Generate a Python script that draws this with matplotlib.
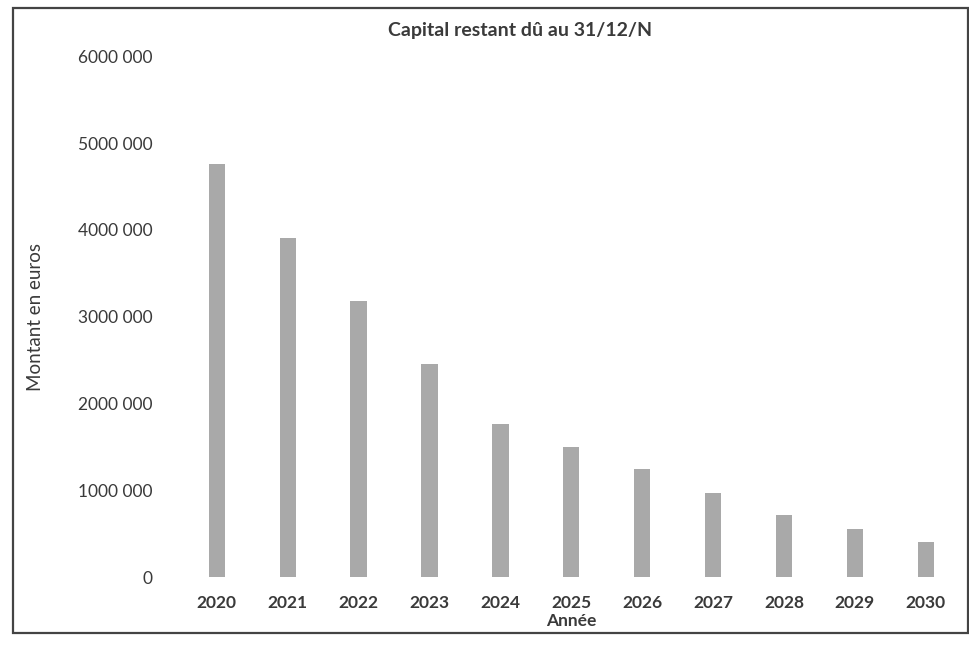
import matplotlib

matplotlib.use("Agg")
import matplotlib.pyplot as plt
from matplotlib.patches import Rectangle

# données (capital restant dû en fin d'année)
annees = [2020, 2021, 2022, 2023, 2024, 2025, 2026, 2027, 2028, 2029, 2030]
capital = [4760000, 3910000, 3180000, 2460000, 1760000, 1500000,
           1240000, 970000, 710000, 560000, 400000]
y_ticks = [0, 1000000, 2000000, 3000000, 4000000, 5000000, 6000000]
y_tick_labels = ["0", "1000 000", "2000 000", "3000 000",
                 "4000 000", "5000 000", "6000 000"]

plt.rcParams["font.family"] = ["Lato", "DejaVu Sans"]
text_col = "#3a3a3a"

fig = plt.figure(figsize=(9.7, 6.47), dpi=100)
ax = fig.add_axes([0.187, 0.108, 0.804, 0.805])

x = list(range(len(annees)))
ax.bar(x, capital, width=0.23, color="#a9a9a9")

ax.set_xlim(-0.5, len(annees) - 0.5)
ax.set_ylim(0, 6000000)
ax.set_xticks(x)
ax.set_xticklabels([str(a) for a in annees], fontsize=12.5,
                   fontweight="bold", color=text_col)
ax.set_yticks(y_ticks)
ax.set_yticklabels(y_tick_labels, fontsize=12.5, color=text_col)
ax.tick_params(axis="both", length=0)
ax.tick_params(axis="y", pad=21)
ax.tick_params(axis="x", pad=13)
for s in ax.spines.values():
    s.set_visible(False)

ax.set_ylabel("Montant en euros", fontsize=13.5, color=text_col, labelpad=24)
ax.set_xlabel("Année", fontsize=12.5, fontweight="bold", color=text_col,
              labelpad=1)
fig.text(0.536, 0.953, "Capital restant dû au 31/12/N", ha="center",
         va="center", fontsize=14, fontweight="bold", color=text_col)

# cadre du graphique
fig.patches.append(Rectangle((0.013, 0.021), 0.985, 0.966, fill=False,
                             edgecolor="#444444", linewidth=1.6,
                             transform=fig.transFigure))

fig.savefig("out.png", dpi=100)
